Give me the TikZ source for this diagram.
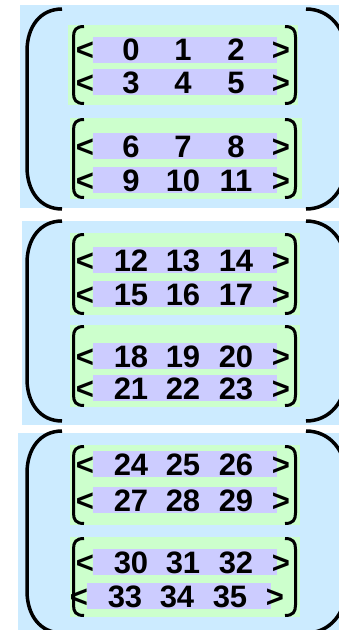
\documentclass[tikz,border=0pt]{standalone}
\usepackage{fontspec}
\setmainfont{Liberation Sans}
\usetikzlibrary{calc,positioning}
\definecolor{outerblue}{HTML}{CCEBFF}
\definecolor{innergreen}{HTML}{CCFFCC}
\definecolor{rowpurple}{HTML}{CCCCFF}
\tikzset{
  numtext/.style={anchor=base, inner sep=0pt, font=\bfseries\fontsize{31}{31}\selectfont},
  rowbar/.style={fill=rowpurple, inner sep=0pt, minimum width=184pt, minimum height=26pt},
  parenline/.style={line width=3.5pt},
  bracketline/.style={line width=3pt}
}

\begin{document}
\begin{tikzpicture}[x=1pt,y=-1pt]
    \useasboundingbox (0,0) rectangle (339,630);
    \clip (0,0) rectangle (339,630);
    % outer blocks: blue top/bottom/left, paren top/bottom
    \foreach \g/\bt/\bb/\bl/\pt/\pb in {0/5/208/20/9/209, 1/221/425/22/221/421, 2/433/645/18/431/633} {
      \fill[outerblue] (\bl,\bt) rectangle (348,\bb);
      \draw[parenline] (62,\pt) .. controls (40,\pt) and (27,\pt+18) .. (27,\pt+42)
        -- (27,\pb-42) .. controls (27,\pb-18) and (40,\pb) .. (62,\pb);
      \draw[parenline] (306,\pt) .. controls (330,\pt) and (346,\pt+20) .. (346,\pt+45)
        -- (346,\pb-45) .. controls (346,\pb-20) and (330,\pb) .. (306,\pb);
    }
    % inner blocks: green top/bottom/left/right
    \foreach \b/\gt/\gb/\gl/\gr in {0/25/105/68/298, 1/118/199/70/302, 2/233/315/70/300,
                                  3/325/407/70/300, 4/445/525/70/300, 5/537/617/70/300} {
      \fill[innergreen] (\gl,\gt) rectangle (\gr,\gb);
      \draw[bracketline] (84,\gt+1.5) .. controls (76,\gt+1.5) and (73.5,\gt+5) .. (73.5,\gt+12)
        -- (73.5,\gb-12) .. controls (73.5,\gb-5) and (76,\gb-1.5) .. (84,\gb-1.5);
      \draw[bracketline] (285,\gt+1.5) .. controls (293,\gt+1.5) and (295.5,\gt+5) .. (295.5,\gt+12)
        -- (295.5,\gb-12) .. controls (295.5,\gb-5) and (293,\gb-1.5) .. (285,\gb-1.5);
    }
    % rows: centre y, shift x
    \foreach \r/\yc/\dx in {0/49.5/0, 1/82/0, 2/146/0, 3/180/0, 4/260/0, 5/294/0,
                            6/356/0, 7/388/0, 8/464/0, 9/500/0, 10/562/0, 11/596/-6} {
      \node[rowbar] (bar-\r) at (185+\dx,\yc) {};
      \node[numtext] (lt-\r) at (85+\dx,\yc+11) {<};
      \foreach \k/\x in {0/131,1/183,2/236} {
        \pgfmathtruncatemacro\n{3*\r+\k}
        \node[numtext] (num-\n) at (\x+\dx,\yc+11) {\n};
      }
      \node[numtext] (gt-\r) at (281+\dx,\yc+11) {>};
    }
\end{tikzpicture}
\end{document}
